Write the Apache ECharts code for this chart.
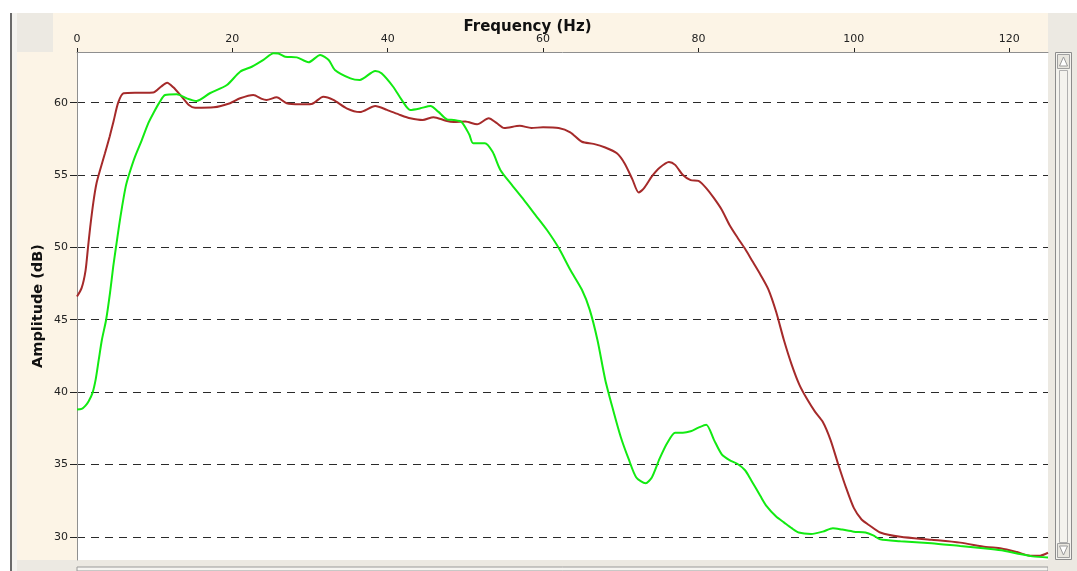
<!DOCTYPE html>
<html>
<head>
<meta charset="utf-8">
<script src="https://cdn.jsdelivr.net/npm/echarts@6/dist/echarts.min.js"></script>
<style>
html,body{margin:0;padding:0;background:#fff;}
#chart{width:1077px;height:571px;}
</style>
</head>
<body>
<div id="chart"></div>
<script>
// ---- Data ----
const xTicks = [0, 20, 40, 60, 80, 100, 120];
const yTicks = [30, 35, 40, 45, 50, 55, 60];

const redFreq = [0, 0.6, 1.1, 1.4, 1.7, 2.1, 2.5, 3.0, 3.6, 4.2, 4.7, 5.3, 6.0, 8.0, 9.8, 10.8, 11.6, 12.4, 13.5, 14.4, 15.2, 17.6, 19.7, 21.0, 22.7, 23.8, 24.4, 25.7, 27.0, 28.7, 30.2, 31.7, 33.0, 34.7, 36.4, 38.4, 39.9, 41.6, 42.9, 44.5, 45.9, 47.5, 48.5, 50.0, 51.5, 53.0, 54.0, 55.0, 57.0, 58.5, 60.0, 62.0, 63.5, 65.0, 66.5, 68.0, 69.5, 70.5, 71.5, 72.3, 73.0, 74.0, 75.0, 76.2, 77.0, 78.0, 79.0, 80.0, 81.0, 82.0, 83.0, 84.0, 85.0, 86.0, 87.0, 88.0, 89.0, 90.0, 91.0, 92.0, 93.0, 94.0, 95.0, 96.0, 97.0, 98.0, 99.0, 100.0, 101.0, 102.0, 103.4, 106.0, 110.0, 113.7, 117.0, 119.0, 121.0, 122.7, 124.0, 125.0];
const redAmp  = [46.6, 47.2, 48.4, 49.9, 51.4, 53.1, 54.4, 55.4, 56.5, 57.65, 58.7, 60.0, 60.65, 60.68, 60.7, 61.1, 61.38, 61.06, 60.4, 59.84, 59.65, 59.68, 59.96, 60.3, 60.53, 60.26, 60.19, 60.37, 59.96, 59.89, 59.91, 60.41, 60.19, 59.61, 59.35, 59.77, 59.5, 59.15, 58.92, 58.8, 59.0, 58.75, 58.67, 58.7, 58.5, 58.92, 58.6, 58.25, 58.4, 58.25, 58.3, 58.25, 57.95, 57.3, 57.15, 56.9, 56.5, 55.8, 54.7, 53.8, 54.1, 54.9, 55.5, 55.9, 55.7, 55.0, 54.65, 54.6, 54.1, 53.4, 52.6, 51.55, 50.7, 49.9, 49.0, 48.1, 47.1, 45.55, 43.6, 41.9, 40.5, 39.5, 38.65, 37.95, 36.7, 35.0, 33.4, 32.0, 31.2, 30.8, 30.3, 30.0, 29.8, 29.6, 29.3, 29.2, 28.95, 28.7, 28.7, 28.9];

const greenFreq = [0, 0.6, 1.1, 1.5, 2.0, 2.4, 2.8, 3.2, 3.75, 4.25, 4.67, 5.03, 5.4, 5.8, 6.27, 6.74, 7.47, 8.33, 9.18, 9.83, 10.6, 11.34, 12.85, 14.1, 15.4, 17.1, 19.3, 21.0, 22.5, 24.0, 25.3, 25.9, 26.8, 28.3, 29.8, 31.3, 32.4, 33.2, 35.2, 36.4, 38.4, 39.2, 40.7, 41.8, 42.9, 44.2, 45.5, 46.5, 47.6, 48.5, 49.5, 50.5, 51.0, 52.5, 53.5, 54.5, 56.0, 57.5, 59.0, 60.5, 62.0, 63.5, 65.0, 66.0, 67.0, 68.0, 69.0, 70.0, 71.0, 72.0, 73.2, 74.0, 75.0, 76.0, 77.0, 78.0, 79.0, 80.0, 81.0, 82.0, 83.0, 84.0, 85.0, 86.0, 86.7, 88.0, 88.8, 90.0, 91.0, 92.0, 92.9, 94.5, 96.0, 97.3, 98.5, 100.0, 101.5, 102.5, 103.4, 106.0, 110.0, 113.7, 117.0, 119.0, 121.0, 123.0, 125.0];
const greenAmp  = [38.8, 38.84, 39.07, 39.37, 39.95, 40.86, 42.24, 43.6, 45.0, 46.85, 48.7, 50.06, 51.44, 52.8, 54.2, 55.1, 56.27, 57.4, 58.58, 59.27, 60.0, 60.53, 60.58, 60.3, 60.12, 60.65, 61.22, 62.14, 62.48, 62.95, 63.41, 63.4, 63.17, 63.13, 62.79, 63.29, 62.95, 62.26, 61.68, 61.57, 62.19, 62.03, 61.1, 60.19, 59.5, 59.61, 59.77, 59.38, 58.85, 58.8, 58.67, 57.8, 57.2, 57.2, 56.6, 55.35, 54.3, 53.3, 52.25, 51.2, 49.97, 48.45, 47.07, 45.7, 43.6, 40.86, 38.8, 36.9, 35.4, 34.1, 33.7, 34.1, 35.4, 36.5, 37.2, 37.2, 37.3, 37.55, 37.75, 36.7, 35.7, 35.3, 35.05, 34.6, 34.0, 32.8, 32.1, 31.4, 31.0, 30.6, 30.3, 30.2, 30.36, 30.6, 30.5, 30.36, 30.3, 30.1, 29.83, 29.7, 29.55, 29.36, 29.2, 29.07, 28.85, 28.65, 28.57];

const xName = 'Frequency (Hz)';
const yName = 'Amplitude (dB)';

// ---- Chart ----
const pairs = (xs, ys) => xs.map((x, i) => [x, ys[i]]);
const FONT = '"DejaVu Sans", Verdana, sans-serif';
const chart = echarts.init(document.getElementById('chart'), null, {renderer: 'canvas'});

const option = {
  animation: false,
  backgroundColor: '#ffffff',
  grid: {left: 77, top: 52, right: 29, bottom: 11, containLabel: false},
  graphic: [
    {type: 'rect', z: -10, shape: {x: 10, y: 13, width: 2, height: 558}, style: {fill: '#6a6a6a'}},
    {type: 'rect', z: -10, shape: {x: 12, y: 13, width: 5, height: 558}, style: {fill: '#f4f3ef'}},
    {type: 'rect', z: -10, shape: {x: 17, y: 13, width: 36, height: 39}, style: {fill: '#ece9e2'}},
    {type: 'rect', z: -10, shape: {x: 53, y: 13, width: 995, height: 39}, style: {fill: '#fcf4e6'}},
    {type: 'rect', z: -10, shape: {x: 17, y: 52, width: 60, height: 508}, style: {fill: '#fcf4e6'}},
    {type: 'rect', z: -10, shape: {x: 17, y: 560, width: 1060, height: 11}, style: {fill: '#ece9e2'}},
    {type: 'rect', z: -10, shape: {x: 77, y: 567, width: 971, height: 4}, style: {fill: '#f6f5f1', stroke: '#9a9a9a', lineWidth: 1}},
    {type: 'rect', z: -10, shape: {x: 1048, y: 13, width: 29, height: 558}, style: {fill: '#ece9e2'}},
    {type: 'rect', z: -9, shape: {x: 1055.5, y: 52.5, width: 16, height: 507}, style: {fill: '#f4f3ee', stroke: '#8c8c8c', lineWidth: 1}},
    {type: 'rect', z: -8, shape: {x: 1057.5, y: 54.5, width: 12, height: 14}, style: {fill: '#e8e6df', stroke: '#a0a0a0', lineWidth: 1}},
    {type: 'polygon', z: -7, shape: {points: [[1063.5, 57], [1059.5, 66], [1067.5, 66]]}, style: {fill: '#ffffff', stroke: '#9a9a9a', lineWidth: 1}},
    {type: 'rect', z: -8, shape: {x: 1059.5, y: 70.5, width: 8, height: 472}, style: {fill: '#f4f3ee', stroke: '#b0b0b0', lineWidth: 1}},
    {type: 'rect', z: -8, shape: {x: 1057.5, y: 543.5, width: 12, height: 14}, style: {fill: '#e8e6df', stroke: '#a0a0a0', lineWidth: 1}},
    {type: 'polygon', z: -7, shape: {points: [[1059.5, 546], [1067.5, 546], [1063.5, 555]]}, style: {fill: '#ffffff', stroke: '#9a9a9a', lineWidth: 1}}
  ],
  xAxis: {
    type: 'value',
    position: 'top',
    min: 0,
    max: 125,
    name: xName,
    nameLocation: 'middle',
    nameGap: 17,
    nameMoveOverlap: false,
    nameTextStyle: {fontFamily: FONT, fontSize: 15, fontWeight: 'bold', color: '#111', padding: [0, 70, 0, 0]},
    axisLine: {show: true, lineStyle: {color: '#8f8f8f', width: 1}},
    axisTick: {show: true, length: 4, lineStyle: {color: '#222'}, customValues: xTicks},
    axisLabel: {fontFamily: FONT, fontSize: 11, color: '#222', margin: 7, customValues: xTicks},
    splitLine: {show: false}
  },
  yAxis: {
    type: 'value',
    min: 28.4,
    max: 63.5,
    name: yName,
    nameLocation: 'middle',
    nameGap: 31,
    nameMoveOverlap: false,
    nameTextStyle: {fontFamily: FONT, fontSize: 14.5, fontWeight: 'bold', color: '#111'},
    axisLine: {show: true, lineStyle: {color: '#8f8f8f', width: 1}},
    axisTick: {show: true, length: 7, lineStyle: {color: '#222'}, customValues: yTicks},
    axisLabel: {fontFamily: FONT, fontSize: 11, color: '#222', margin: 9, customValues: yTicks},
    splitLine: {show: true, lineStyle: {color: '#2a2a2a', width: 1, type: [8, 6]}}
  },
  series: [
    {
      type: 'line',
      data: pairs(redFreq, redAmp),
      showSymbol: false,
      smooth: 0.25,
      lineStyle: {color: '#a52a2a', width: 2},
      z: 3
    },
    {
      type: 'line',
      data: pairs(greenFreq, greenAmp),
      showSymbol: false,
      smooth: 0.25,
      lineStyle: {color: '#12ea12', width: 2},
      z: 4
    }
  ]
};
chart.setOption(option);
</script>
</body>
</html>
